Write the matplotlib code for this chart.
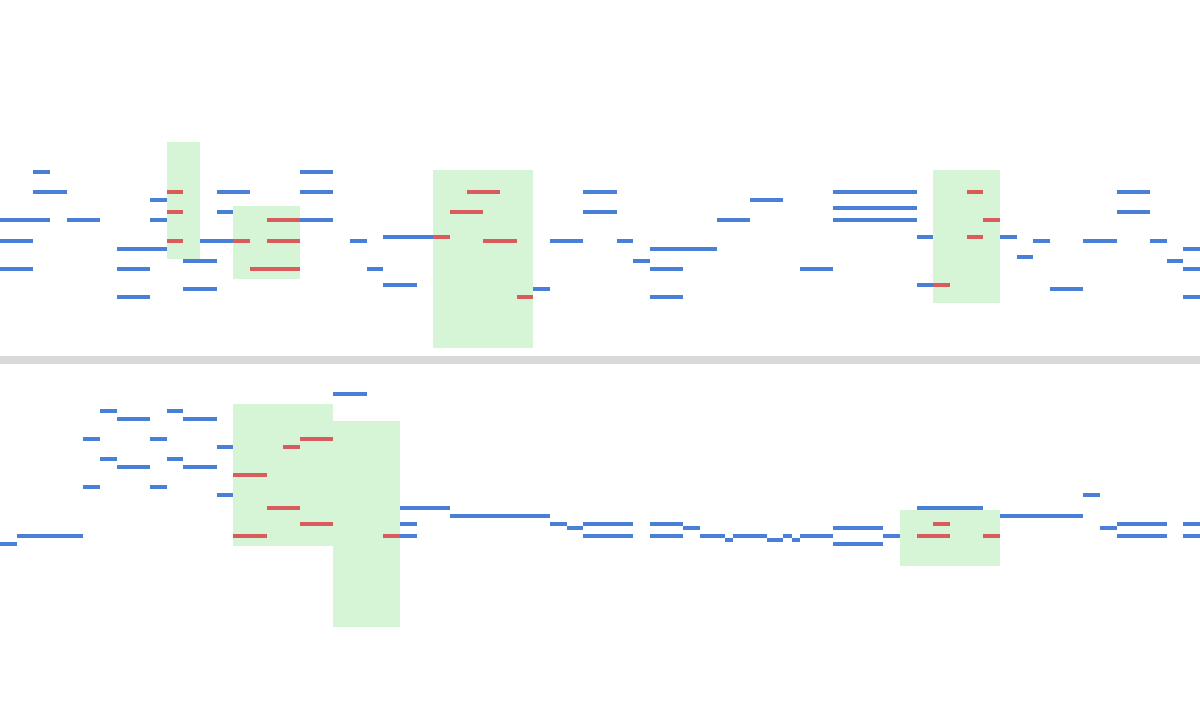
import matplotlib
matplotlib.use("Agg")
import matplotlib.pyplot as plt
from matplotlib.patches import Rectangle

# ── notes as (start step, end step, midi pitch) ──
top_blue = [
    (2, 3, 66), (2, 4, 61), (0, 3, 54), (4, 6, 54), (0, 2, 49), (0, 2, 42),
    (7, 10, 47), (7, 9, 42), (7, 9, 35), (9, 10, 59), (9, 10, 54),
    (12, 14, 49), (11, 13, 44), (11, 13, 37), (13, 15, 61), (13, 14, 56),
    (18, 20, 66), (18, 20, 61), (18, 20, 54), (21, 22, 49), (22, 23, 42),
    (23, 26, 50), (23, 25, 38), (32, 33, 37), (33, 35, 49), (35, 37, 61),
    (35, 37, 56), (37, 38, 49), (38, 39, 44), (39, 43, 47), (39, 41, 42),
    (39, 41, 35), (43, 45, 54), (45, 47, 59), (48, 50, 42), (50, 55, 61),
    (50, 55, 57), (50, 55, 54), (55, 56, 50), (55, 56, 38), (60, 61, 50),
    (61, 62, 45), (62, 63, 49), (63, 65, 37), (65, 67, 49), (67, 69, 61),
    (67, 69, 56), (69, 70, 49), (70, 71, 44), (71, 72, 47), (71, 72, 42),
    (71, 72, 35),
]
top_red = [
    (10, 11, 61), (10, 11, 56), (10, 11, 49), (14, 15, 49), (16, 18, 54),
    (16, 18, 49), (15, 18, 42), (26, 27, 50), (28, 30, 61), (27, 29, 56),
    (29, 31, 49), (31, 32, 35), (56, 57, 38), (58, 59, 61), (59, 60, 54),
    (58, 59, 50),
]
top_boxes = [(10, 12, 44.5, 73.5), (14, 18, 39.5, 57.5),
             (26, 32, 22.5, 66.5), (56, 60, 33.5, 66.5)]

bottom_blue = [
    (20, 22, 101), (6, 7, 97), (7, 9, 95), (10, 11, 97), (11, 13, 95),
    (5, 6, 90), (9, 10, 90), (13, 14, 88), (6, 7, 85), (7, 9, 83),
    (10, 11, 85), (11, 13, 83), (5, 6, 78), (9, 10, 78), (13, 14, 76),
    (1, 5, 66), (0, 1, 64), (24, 27, 73), (27, 33, 71), (24, 25, 69),
    (24, 25, 66), (33, 34, 69), (34, 35, 68), (35, 38, 69), (35, 38, 66),
    (39, 41, 69), (39, 41, 66), (41, 42, 68), (42, 43.5, 66), (43.5, 44, 65),
    (44, 46, 66), (46, 47, 65), (47, 47.5, 66), (47.5, 48, 65), (48, 50, 66),
    (50, 53, 68), (50, 53, 64), (53, 54, 66), (55, 59, 73), (60, 65, 71),
    (65, 66, 76), (66, 67, 68), (67, 70, 69), (67, 70, 66), (71, 72, 69),
    (71, 72, 66),
]
bottom_red = [
    (18, 20, 90), (17, 18, 88), (14, 16, 81), (16, 18, 73), (18, 20, 69),
    (14, 16, 66), (23, 24, 66), (56, 57, 69), (55, 57, 66), (59, 60, 66),
]
bottom_boxes = [(14, 20, 63.5, 98.5), (20, 24, 43.5, 94.5),
                (54, 60, 58.5, 72.5)]

n_steps = 72
pitch_lo, pitch_hi = 20.5, 108.5

BLUE = "#4a7fd8"
RED = "#d95b5b"
GREEN = "#d6f5d6"
SEP = "#d9d9d9"


def draw_roll(ax, blue, red, boxes):
    for x0, x1, p0, p1 in boxes:
        ax.add_patch(Rectangle((x0, p0), x1 - x0, p1 - p0,
                               facecolor=GREEN, edgecolor="none", zorder=1))
    for notes, col in [(blue, BLUE), (red, RED)]:
        ax.barh([n[2] for n in notes], [n[1] - n[0] for n in notes],
                left=[n[0] for n in notes], height=0.98, color=col,
                linewidth=0, zorder=2)
    ax.set_xlim(0, n_steps)
    ax.set_ylim(pitch_lo, pitch_hi)
    ax.axis("off")


fig = plt.figure(figsize=(12, 7.2), dpi=100)
ax_top = fig.add_axes([0, 364 / 720, 1, 356 / 720])
ax_bot = fig.add_axes([0, 0, 1, 356 / 720])
fig.patches.append(Rectangle((0, 356 / 720), 1, 8 / 720,
                             transform=fig.transFigure, facecolor=SEP,
                             edgecolor="none"))

draw_roll(ax_top, top_blue, top_red, top_boxes)
draw_roll(ax_bot, bottom_blue, bottom_red, bottom_boxes)

fig.savefig("out.png", dpi=100)
